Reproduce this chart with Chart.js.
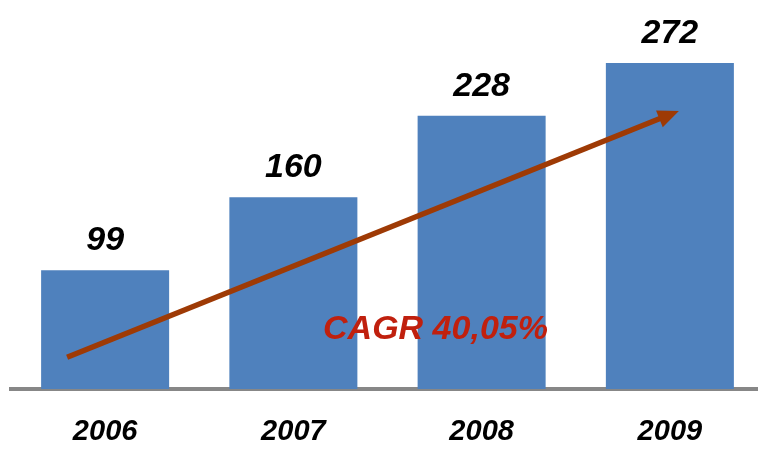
<!DOCTYPE html>
<html>
<head>
<meta charset="utf-8">
<script src="https://cdn.jsdelivr.net/npm/chart.js@4/dist/chart.umd.min.js"></script>
<style>
  html, body { margin: 0; padding: 0; background: #fff; overflow: hidden; }
  #wrap { width: 766px; height: 449px; }
</style>
</head>
<body>
<div id="wrap"><canvas id="myChart" width="766" height="449"></canvas></div>
<script>
// data
var years = ['2006', '2007', '2008', '2009'];
var revenue = [99, 160, 228, 272];
var cagrLabel = 'CAGR 40,05%';
// trend arrow, in data values (from first to last year)
var arrowFrom = 26.5;
var arrowTo = 232;

var barColor = '#4f81bd';

var overlay = {
    id: 'overlay',
    afterDatasetsDraw: function (chart) {
        var ctx = chart.ctx;
        var x = chart.scales.x, y = chart.scales.y;
        var meta = chart.getDatasetMeta(0);

        // value labels above bars
        ctx.save();
        ctx.fillStyle = '#000';
        ctx.font = 'italic bold 34px "Liberation Sans", Arial, sans-serif';
        ctx.textAlign = 'center';
        ctx.textBaseline = 'alphabetic';
        meta.data.forEach(function (bar, i) {
            ctx.fillText(revenue[i], bar.x, bar.y - 20);
        });
        ctx.restore();

        // trend arrow
        var x0 = x.getPixelForValue(0) - 38, y0 = y.getPixelForValue(arrowFrom);
        var x1 = x.getPixelForValue(3) + 9, y1 = y.getPixelForValue(arrowTo);
        var ang = Math.atan2(y1 - y0, x1 - x0);
        var headLen = 21, headW = 9;
        var bx = x1 - Math.cos(ang) * headLen, by = y1 - Math.sin(ang) * headLen;
        ctx.save();
        ctx.strokeStyle = '#9e3a05';
        ctx.fillStyle = '#9e3a05';
        ctx.lineWidth = 5.5;
        ctx.beginPath();
        ctx.moveTo(x0, y0);
        ctx.lineTo(bx + Math.cos(ang) * 2, by + Math.sin(ang) * 2);
        ctx.stroke();
        ctx.beginPath();
        ctx.moveTo(x1, y1);
        ctx.lineTo(bx - Math.sin(ang) * headW, by + Math.cos(ang) * headW);
        ctx.lineTo(bx + Math.sin(ang) * headW, by - Math.cos(ang) * headW);
        ctx.closePath();
        ctx.fill();
        ctx.restore();

        // CAGR text
        ctx.save();
        ctx.fillStyle = '#c0200e';
        ctx.font = 'italic bold 34px "Liberation Sans", Arial, sans-serif';
        ctx.textAlign = 'center';
        ctx.textBaseline = 'alphabetic';
        ctx.fillText(cagrLabel, (x.getPixelForValue(1) + x.getPixelForValue(2)) / 2 + 48, 339);
        ctx.restore();
    }
};

var ctx = document.getElementById('myChart').getContext('2d');
var chart = new Chart(ctx, {
    type: 'bar',
    data: {
        labels: years,
        datasets: [{
            data: revenue,
            backgroundColor: barColor,
            borderWidth: 0,
            categoryPercentage: 1,
            barPercentage: 0.68
        }]
    },
    options: {
        responsive: false,
        animation: false,
        layout: { padding: { left: 11, right: 2, top: 0, bottom: 0 } },
        plugins: { legend: { display: false }, tooltip: { enabled: false } },
        scales: {
            x: {
                grid: { display: false, drawTicks: false },
                border: { color: '#878787', width: 4 },
                afterFit: function (s) { s.height = 60; },
                ticks: {
                    color: '#000',
                    padding: 26,
                    font: { family: '"Liberation Sans", Arial, sans-serif', size: 29, style: 'italic', weight: 'bold' }
                }
            },
            y: {
                display: false,
                min: 0,
                max: 324.6
            }
        }
    },
    plugins: [overlay]
});
</script>
</body>
</html>
